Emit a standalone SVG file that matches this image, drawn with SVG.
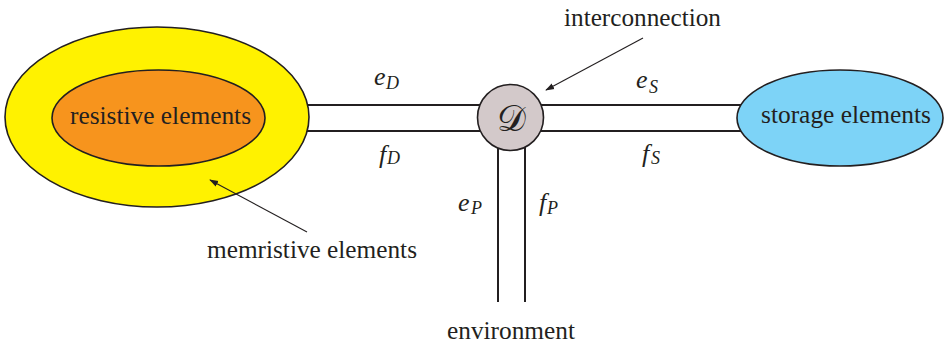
<svg xmlns="http://www.w3.org/2000/svg" width="947" height="345" viewBox="0 0 947 345">
<style>
.lbl{font-family:'Liberation Serif',serif;font-size:25px;fill:#231f20}
.it{font-family:'Liberation Serif',serif;font-style:italic;fill:#231f20;font-size:26px}
.sub{font-family:'Liberation Serif',serif;font-style:italic;fill:#231f20;font-size:18px}
.bar{stroke:#231f20;stroke-width:2;fill:none}
.edge{stroke:#231f20;stroke-width:1.6}
.arr{stroke:#231f20;stroke-width:1.1;fill:none;marker-end:url(#ah)}
</style>
<defs>
<marker id="ah" viewBox="0 0 10 10" refX="9" refY="5" markerWidth="9" markerHeight="9" markerUnits="userSpaceOnUse" orient="auto">
<path d="M0,1.5 L10,5 L0,8.5 Z" fill="#231f20"/>
</marker>
</defs>
<rect width="947" height="345" fill="#ffffff"/>
<g id="connectors">
<line class="bar" x1="300" y1="105" x2="760" y2="105"/>
<line class="bar" x1="300" y1="131" x2="760" y2="131"/>
<line class="bar" x1="498" y1="130" x2="498" y2="302"/>
<line class="bar" x1="525" y1="130" x2="525" y2="302"/>
</g>
<g id="memristive">
<ellipse class="edge" cx="157" cy="117" rx="152" ry="90" fill="#fff200"/>
</g>
<g id="resistive">
<ellipse class="edge" cx="158.5" cy="118" rx="106.5" ry="48" fill="#f7941d"/>
<text class="lbl" x="70" y="124" textLength="181" lengthAdjust="spacingAndGlyphs">resistive elements</text>
</g>
<g id="storage">
<ellipse class="edge" cx="840" cy="118" rx="103" ry="48" fill="#7dd3f7"/>
<text class="lbl" x="761" y="123" textLength="170" lengthAdjust="spacingAndGlyphs">storage elements</text>
</g>
<g id="interconnection">
<circle class="edge" cx="510.5" cy="117.5" r="33" fill="#d3c9ca"/>
<text x="511" y="131" text-anchor="middle" font-family="DejaVu Serif, DejaVu Sans, serif" font-size="36" fill="#231f20">𝒟</text>
</g>
<g id="pointers">
<line class="arr" x1="643" y1="38" x2="546" y2="90"/>
<line class="arr" x1="307" y1="232" x2="210" y2="180"/>
</g>
<g id="labels">
<text class="lbl" x="564" y="26" textLength="157" lengthAdjust="spacingAndGlyphs">interconnection</text>
<text class="lbl" x="207" y="258" textLength="210" lengthAdjust="spacingAndGlyphs">memristive elements</text>
<text class="lbl" x="447" y="339" textLength="128" lengthAdjust="spacingAndGlyphs">environment</text>
<text class="it" x="374" y="85">e</text>
<text class="sub" x="386" y="89">D</text>
<text class="it" x="379" y="163">f</text>
<text class="sub" x="387" y="164">D</text>
<text class="it" x="636" y="88">e</text>
<text class="sub" x="649" y="93">S</text>
<text class="it" x="642" y="162">f</text>
<text class="sub" x="651" y="164">S</text>
<text class="it" x="458" y="211">e</text>
<text class="sub" x="471" y="214">P</text>
<text class="it" x="539" y="211">f</text>
<text class="sub" x="547" y="214">P</text>
</g>
</svg>
